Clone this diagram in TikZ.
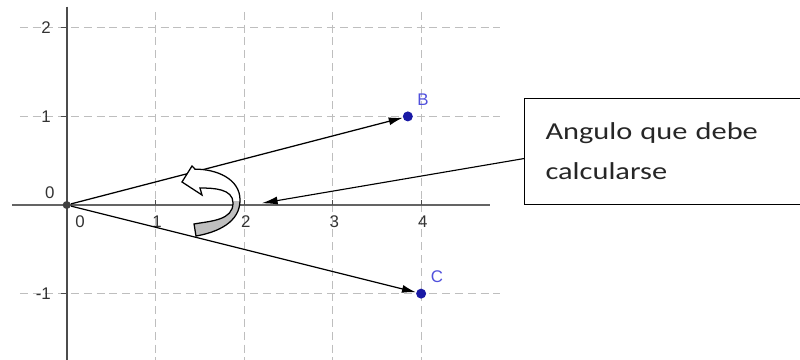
\documentclass[tikz,border=0pt]{standalone}
\usepackage{fontspec}
\setmainfont{Liberation Sans}
\newfontfamily\calloutfont[FakeStretch=1.25]{Carlito}
\usetikzlibrary{arrows.meta,positioning}

\definecolor{ptblue}{RGB}{25,25,165}
\definecolor{lblblue}{RGB}{80,80,220}
\definecolor{gridgray}{RGB}{190,190,190}
\definecolor{axisgray}{RGB}{100,100,100}

\tikzset{
  gridline/.style={gridgray, dash pattern=on 0.2cm off 0.12cm, line width=0.6pt},
  axisline/.style={axisgray, line width=1.5pt},
  tickline/.style={black!70, line width=0.6pt},
  vec/.style={black, line width=0.9pt, -{Latex[length=0.35cm,width=0.2cm]}},
  ticklbl/.style={text=black!80, font=\fontsize{12}{14}\selectfont, inner sep=1pt},
  ptlabel/.style={text=lblblue, font=\fontsize{12}{14}\selectfont, inner sep=1pt},
  pt/.style={circle, fill=ptblue, inner sep=0pt, minimum size=0.25cm},
}

\newcommand{\turnpath}{(1.448,0.405) to[out=0,in=90] (1.956,0.056) to[out=-90,in=10] (1.459,-0.350) -- (1.437,-0.214) to[out=10,in=-90] (1.877,0.023) to[out=90,in=0] (1.504,0.192) -- (1.527,0.113) -- (1.301,0.260) -- (1.414,0.440) -- cycle}

\begin{document}
\begin{tikzpicture}[x=2.215cm,y=2.215cm]
\useasboundingbox (-0.753,-1.749) rectangle (8.276,2.314);

% grid
\foreach \y in {-1,1,2}
  \draw[gridline] (-0.53,\y) -- (4.89,\y);
\foreach \x in {1,...,4}
  \draw[gridline] (\x,2.18) -- (\x,-1.76);

% axes
\draw[axisline] (-0.62,0) -- (4.78,0);
\draw[axisline, black!70] (0,2.24) -- (0,-1.76);
\foreach \x in {1,...,4}
  \draw[tickline] (\x,0) -- (\x,0.06);
\foreach \y in {-1,1,2}
  \draw[tickline] (-0.06,\y) -- (0,\y);

% tick labels
\node[ticklbl] (xl0) at (0.15,-0.19) {0};
\foreach \x in {1,...,4}
  \node[ticklbl] (xl\x) at (\x+0.02,-0.19) {\x};
\node[ticklbl] (yl0) at (-0.19,0.135) {0};
\foreach \y in {-1,1,2}
  \node[ticklbl, anchor=east] (yl\y) at (-0.16,\y) {\y};

% points and vectors
\node[circle, fill=black!75, inner sep=0pt, minimum size=0.2cm] (O) at (0,0) {};
\node[pt] (B) at (3.85,1) {};
\node[pt] (C) at (4,-1) {};
\node[ptlabel] (Blbl) at (4.02,1.19) {B};
\node[ptlabel] (Clbl) at (4.18,-0.81) {C};
\draw[vec] (O) -- (B);
\draw[vec] (O) -- (C);

% curved arrow
\fill[white] \turnpath;
\begin{scope}
  \clip (1.2,-0.5) rectangle (2.1,0.04);
  \fill[black!25] \turnpath;
\end{scope}
\draw[line width=0.9pt] \turnpath;

% callout
\node[draw, line width=0.8pt, anchor=north west, minimum width=6.95cm, minimum height=2.65cm,
      text width=5.9cm, inner xsep=0.525cm, align=left, text=black!85,
      font=\calloutfont\fontsize{17.3}{28.4}\selectfont] (callout) at (5.161,1.208)
  {Angulo que debe\\calcularse};
\coordinate (target) at (2.2,0.02);
\draw[line width=0.8pt, -{Latex[length=0.4cm,width=0.2cm]}] ([yshift=-0.175cm]callout.west) -- (target);

\end{tikzpicture}
\end{document}
